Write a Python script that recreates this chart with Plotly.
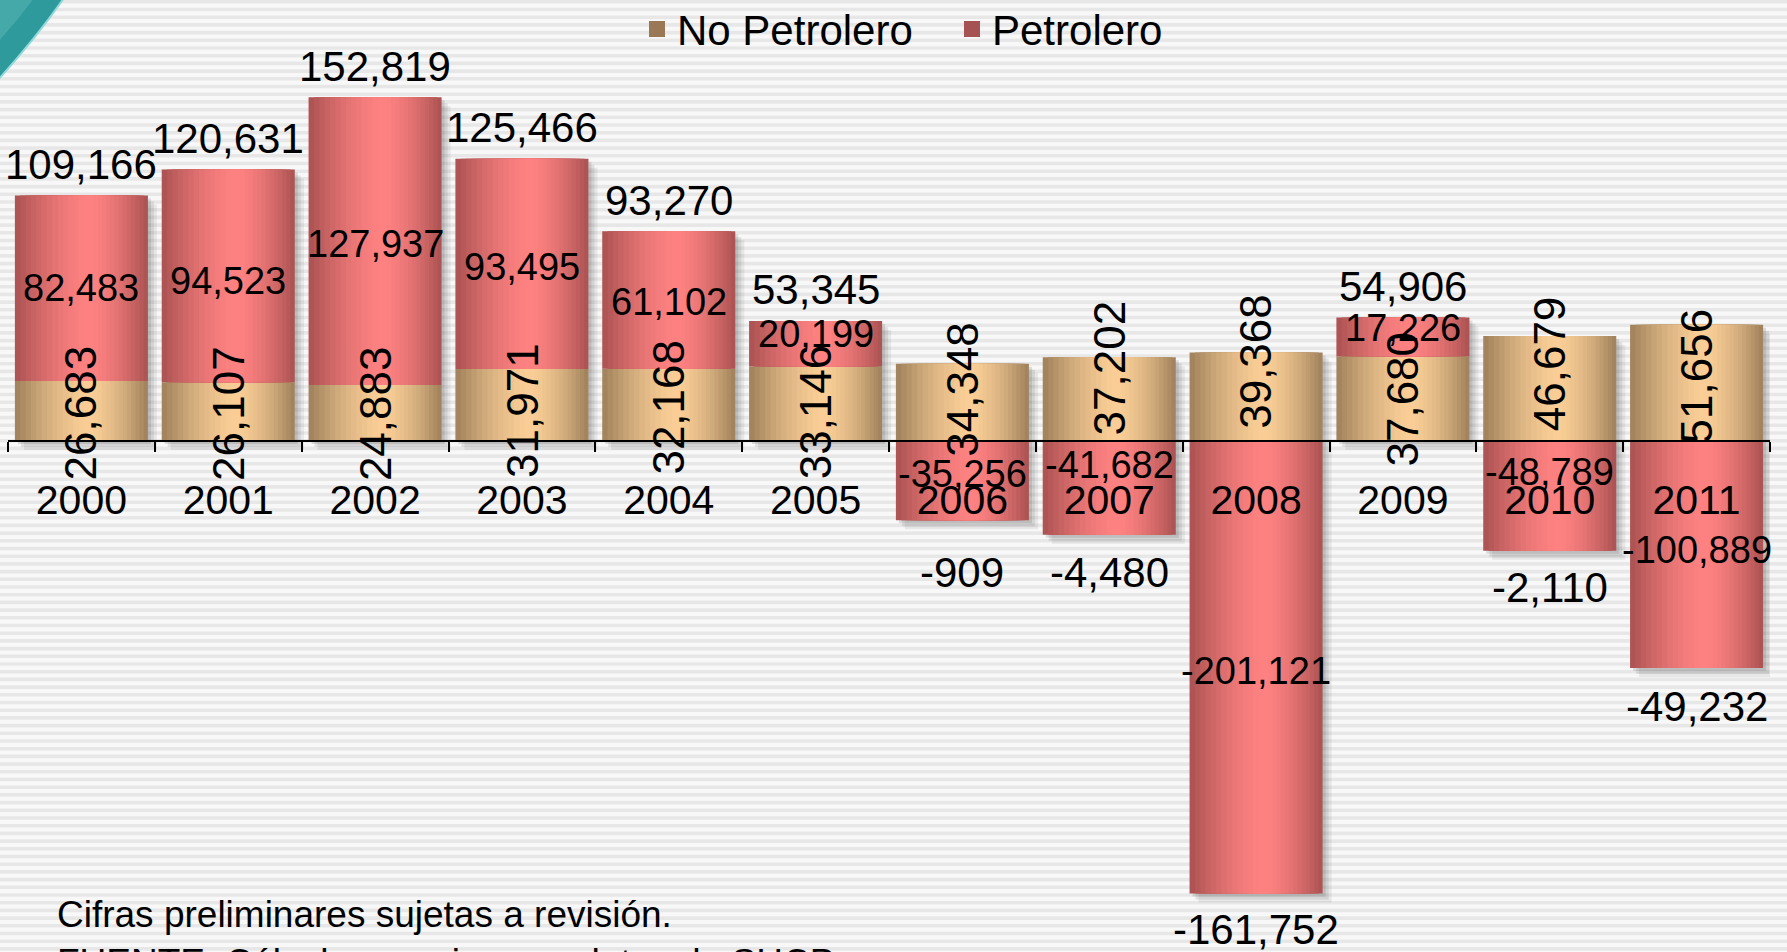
import plotly.graph_objects as go

# Balance by year (millones de pesos)
years = ["2000", "2001", "2002", "2003", "2004", "2005",
         "2006", "2007", "2008", "2009", "2010", "2011"]
no_petrolero = [26683, 26107, 24883, 31971, 32168, 33146,
                34348, 37202, 39368, 37680, 46679, 51656]
petrolero = [82483, 94523, 127937, 93495, 61102, 20199,
             -35256, -41682, -201121, 17226, -48789, -100889]
balance = [109166, 120631, 152819, 125466, 93270, 53345,
           -909, -4480, -161752, 54906, -2110, -49232]

# Vertical label nudges in pixels (positive = up)
np_label_nudge = [-2, -2, -1, -5, -2, -8, 13, 31, 35, 0, 25, 7]
pet_label_nudge = [0, -5, -3, -3, -2, 10, 7, 23, -4, 9, 24, 5]
total_label_gap = [31, 31, 31, 31, 31, 31, 52, 38, 36, 31, 37, 38]

FIG_W, FIG_H = 1787, 952
M_L, M_R = 8, 17
Y_MIN, Y_MAX = -227100, 196000
BAR_W = 0.906
FONT = "Liberation Sans, Arial, sans-serif"

plot_w = FIG_W - M_L - M_R
px_x = len(years) / plot_w            # category units per pixel
px_y = (Y_MAX - Y_MIN) / FIG_H        # data units per pixel


def mix(c1, c2, t):
    return "rgb({},{},{})".format(*[round(a + (b - a) * t) for a, b in zip(c1, c2)])


fig = go.Figure()

# soft drop shadow behind each stacked column
lo = [min(0, p) for p in petrolero]
hi = [n + max(0, p) for n, p in zip(no_petrolero, petrolero)]
for d, a in [(9, 0.10), (6, 0.14), (3, 0.18)]:
    fig.add_trace(go.Bar(
        x=years, y=[h - l for h, l in zip(hi, lo)],
        base=[l - d * px_y for l in lo],
        width=BAR_W, offset=-BAR_W / 2 + d * px_x,
        marker=dict(color=f"rgba(90,90,90,{a})", line_width=0),
        showlegend=False, hoverinfo="skip"))

# cylinder-like shading built from nested bars
pet_base = [n if p > 0 else 0 for n, p in zip(no_petrolero, petrolero)]
series = [
    (no_petrolero, [0] * len(years), (163, 132, 94), (250, 206, 150)),
    (petrolero, pet_base, (174, 84, 84), (255, 130, 130)),
]
N_LAYERS = 14
hl = 0.06 * BAR_W
for vals, base, edge, center in series:
    for i in range(N_LAYERS):
        f = 1 - i / N_LAYERS
        t = 1 - f ** 1.6
        left = hl + f * (-BAR_W / 2 - hl)
        fig.add_trace(go.Bar(
            x=years, y=vals, base=base,
            width=f * BAR_W, offset=left,
            marker=dict(color=mix(edge, center, t), line_width=0),
            showlegend=False, hoverinfo="skip"))

# legend entries
fig.add_trace(go.Scatter(x=[None], y=[None], mode="markers", name="No Petrolero",
                         marker=dict(symbol="square", size=19, color="#9a7757")))
fig.add_trace(go.Scatter(x=[None], y=[None], mode="markers", name="Petrolero",
                         marker=dict(symbol="square", size=19, color="#a65252")))

ann = []
for i in range(len(years)):
    # No Petrolero values, rotated
    ann.append(dict(x=i, y=no_petrolero[i] / 2, text=f"{no_petrolero[i]:,}",
                    textangle=-90, yshift=np_label_nudge[i],
                    font=dict(size=44, family=FONT, color="black")))
    # Petrolero values
    ann.append(dict(x=i, y=pet_base[i] + petrolero[i] / 2, text=f"{petrolero[i]:,}",
                    yshift=pet_label_nudge[i],
                    font=dict(size=38, family=FONT, color="black")))
    # Balance total, above or below the column
    if balance[i] >= 0:
        ann.append(dict(x=i, y=hi[i], text=f"{balance[i]:,}", yshift=total_label_gap[i],
                        font=dict(size=42, family=FONT, color="black")))
    else:
        ann.append(dict(x=i, y=lo[i], text=f"{balance[i]:,}", yshift=-total_label_gap[i],
                        font=dict(size=42, family=FONT, color="black")))
for a in ann:
    a.update(xref="x", yref="y", showarrow=False, xanchor="center", yanchor="middle")

ann.append(dict(xref="paper", yref="paper", x=(55 - M_L) / plot_w, y=1 - 892 / FIG_H,
                xanchor="left", yanchor="top", showarrow=False, align="left",
                text="Cifras preliminares sujetas a revisión.<br>FUENTE: Cálculos propios con datos de SHCP.",
                font=dict(size=37, family=FONT, color="black")))

# striped background
STEP, BAND = 7.7, 3.6
parts = []
yy = 0.0
while yy < FIG_H:
    a = 1 - yy / FIG_H
    b = 1 - min(yy + BAND, FIG_H) / FIG_H
    parts.append(f"M-0.01,{a:.5f} L1.02,{a:.5f} L1.02,{b:.5f} L-0.01,{b:.5f} Z")
    yy += STEP
shapes = [dict(type="path", xref="paper", yref="paper", layer="below",
               path=" ".join(parts), fillcolor="#e7e7e7", line_width=0)]


def pp(x, y):
    return f"{(x - M_L) / plot_w:.4f},{1 - y / FIG_H:.4f}"


# corner ornament
shapes.append(dict(type="path", xref="paper", yref="paper", layer="above",
                   path=f"M{pp(-2, -2)} L{pp(64, -2)} Q{pp(36, 38)} {pp(-2, 80)} Z",
                   fillcolor="#2e9a9c", line=dict(color="#8fdada", width=2)))
shapes.append(dict(type="path", xref="paper", yref="paper", layer="above",
                   path=f"M{pp(-2, -2)} L{pp(34, -2)} Q{pp(18, 20)} {pp(-2, 42)} Z",
                   fillcolor="#45a9aa", line_width=0))

fig.update_layout(
    width=FIG_W, height=FIG_H,
    margin=dict(l=M_L, r=M_R, t=0, b=0, autoexpand=False),
    paper_bgcolor="#f8f8f8", plot_bgcolor="rgba(0,0,0,0)",
    barmode="overlay",
    font=dict(family=FONT, color="black"),
    showlegend=True,
    legend=dict(orientation="h", x=(637 - M_L) / plot_w, xanchor="left",
                y=1.005, yanchor="top",
                font=dict(size=42, family=FONT, color="black"),
                bgcolor="rgba(0,0,0,0)", itemwidth=30, entrywidth=270),
    xaxis=dict(type="category", categoryorder="array", categoryarray=years,
               range=[-0.5, len(years) - 0.5], anchor="free",
               position=(0 - Y_MIN) / (Y_MAX - Y_MIN),
               showline=True, linecolor="black", linewidth=2,
               ticks="outside", tickson="boundaries", ticklen=10,
               tickwidth=2, tickcolor="black", ticklabelstandoff=23,
               tickfont=dict(size=41, family=FONT, color="black"),
               showgrid=False, zeroline=False, fixedrange=True, automargin=False),
    yaxis=dict(range=[Y_MIN, Y_MAX], visible=False, showgrid=False,
               zeroline=False, fixedrange=True, automargin=False),
    annotations=ann, shapes=shapes,
)

fig.write_html("out.html")
